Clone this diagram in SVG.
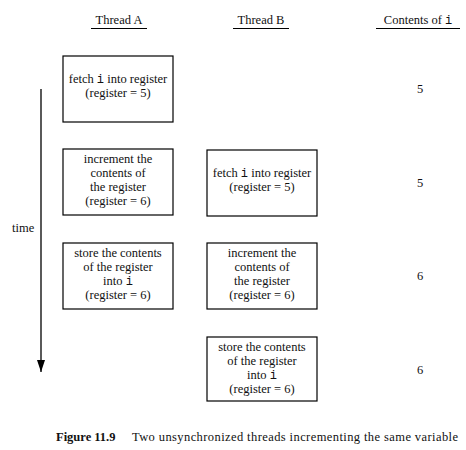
<svg xmlns="http://www.w3.org/2000/svg" width="466" height="450" viewBox="0 0 466 450">
<style>
text{font-family:"Liberation Serif","Times New Roman",serif;font-size:12.5px;fill:#111;}
.c{text-anchor:middle;}
.m{font-family:"Liberation Mono","Courier New",monospace;font-size:12px;}
.box{fill:#fff;stroke:#000;stroke-width:1.2;}
.ul{stroke:#000;stroke-width:1.2;}
.b{font-weight:bold;}
</style>
<defs>
<marker id="ah" markerWidth="12" markerHeight="8" refX="12" refY="4" orient="auto" markerUnits="userSpaceOnUse" viewBox="0 0 12 8">
<path d="M0,0 L12,4 L0,8 Z" fill="#000"/>
</marker>
</defs>
<g id="headers">
<text class="c" x="119" y="24">Thread A</text>
<line class="ul" x1="91" y1="28.5" x2="147" y2="28.5"/>
<text class="c" x="261" y="24">Thread B</text>
<line class="ul" x1="233" y1="28.5" x2="289" y2="28.5"/>
<text class="c" x="418" y="24">Contents of <tspan class="m">i</tspan></text>
<line class="ul" x1="376" y1="28.5" x2="460" y2="28.5"/>
</g>
<g id="connectors">
<line x1="41" y1="89" x2="41" y2="372" stroke="#000" stroke-width="1.3" marker-end="url(#ah)"/>
<text x="12" y="232">time</text>
</g>
<g id="a1">
<rect class="box" x="63" y="56" width="110" height="66"/>
<text class="c" x="118" y="83">fetch <tspan class="m">i</tspan> into register</text>
<text class="c" x="118" y="97">(register = 5)</text>
</g>
<g id="a2">
<rect class="box" x="63" y="149" width="110" height="66"/>
<text class="c" x="118" y="163">increment the</text>
<text class="c" x="118" y="177">contents of</text>
<text class="c" x="118" y="191">the register</text>
<text class="c" x="118" y="205">(register = 6)</text>
</g>
<g id="a3">
<rect class="box" x="63" y="243" width="110" height="66"/>
<text class="c" x="118" y="257">store the contents</text>
<text class="c" x="118" y="271">of the register</text>
<text class="c" x="118" y="285">into <tspan class="m">i</tspan></text>
<text class="c" x="118" y="299">(register = 6)</text>
</g>
<g id="b1">
<rect class="box" x="207" y="150" width="110" height="66"/>
<text class="c" x="262" y="177">fetch <tspan class="m">i</tspan> into register</text>
<text class="c" x="262" y="191">(register = 5)</text>
</g>
<g id="b2">
<rect class="box" x="207" y="243" width="110" height="66"/>
<text class="c" x="262" y="257">increment the</text>
<text class="c" x="262" y="271">contents of</text>
<text class="c" x="262" y="285">the register</text>
<text class="c" x="262" y="299">(register = 6)</text>
</g>
<g id="b3">
<rect class="box" x="207" y="337" width="110" height="64"/>
<text class="c" x="262" y="351">store the contents</text>
<text class="c" x="262" y="365">of the register</text>
<text class="c" x="262" y="379">into <tspan class="m">i</tspan></text>
<text class="c" x="262" y="393">(register = 6)</text>
</g>
<g id="values">
<text class="c" x="420" y="93">5</text>
<text class="c" x="420" y="187">5</text>
<text class="c" x="420" y="280">6</text>
<text class="c" x="420" y="374">6</text>
</g>
<g id="caption">
<text class="b" x="56" y="441">Figure 11.9</text>
<text x="132" y="441" textLength="326" lengthAdjust="spacing">Two unsynchronized threads incrementing the same variable</text>
</g>
</svg>
